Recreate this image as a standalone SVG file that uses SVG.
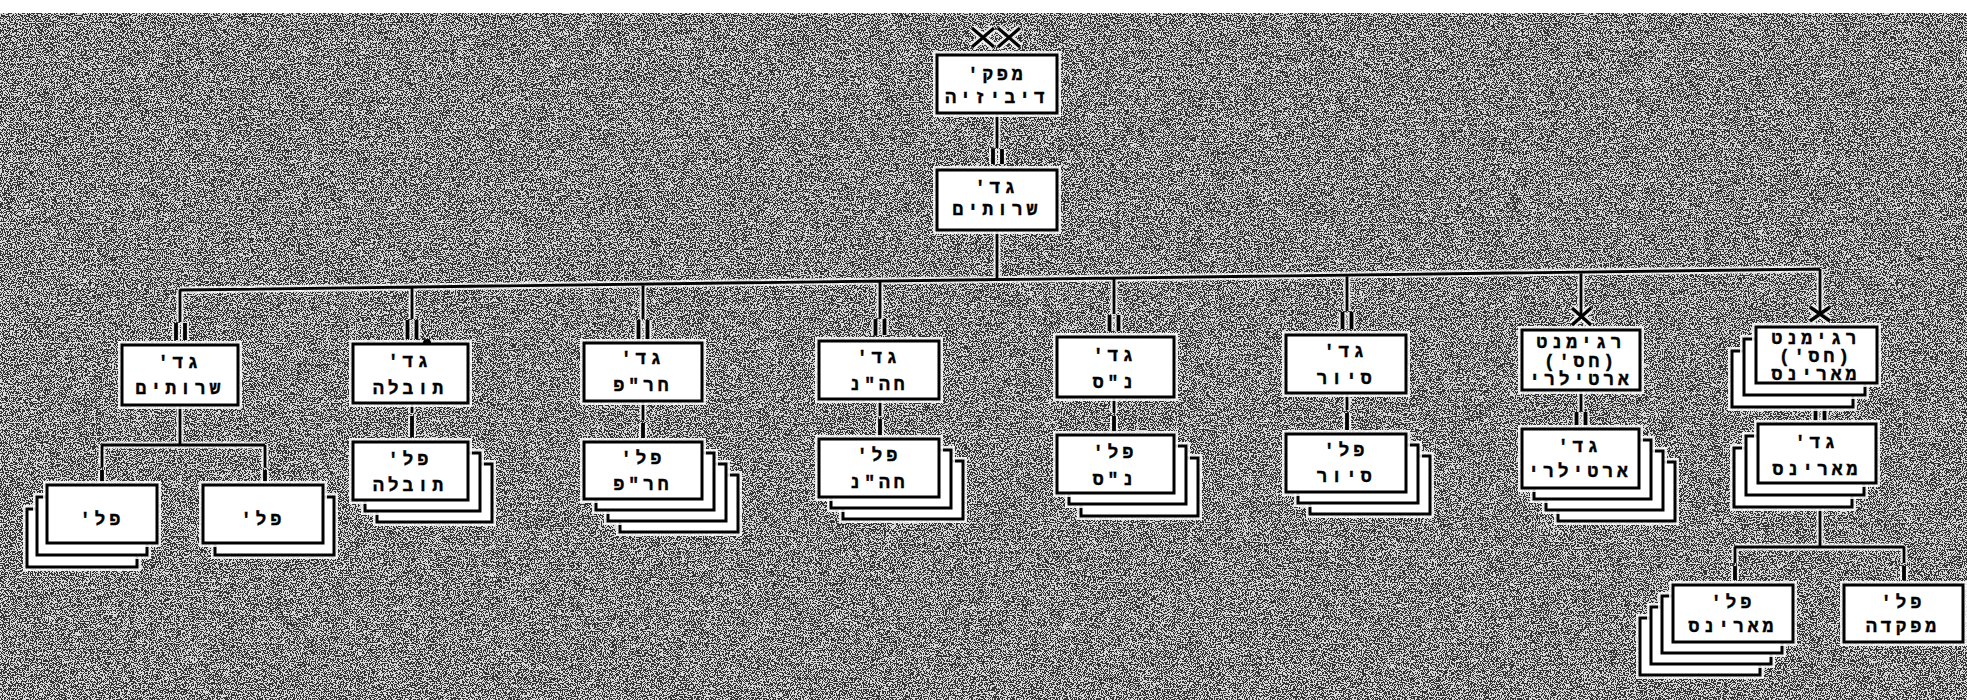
<svg xmlns="http://www.w3.org/2000/svg" width="1967" height="700" viewBox="0 0 1967 700">
<defs>
<filter id="speckle" x="0" y="0" width="1" height="1" color-interpolation-filters="sRGB">
<feTurbulence type="fractalNoise" baseFrequency="0.85" numOctaves="2" seed="7" result="t"/>
<feColorMatrix in="t" type="matrix" values="0 0 0 0 0.2  0 0 0 0 0.2  0 0 0 0 0.2  1 0 0 0 0"/>
<feComponentTransfer><feFuncA type="discrete" tableValues="0 1"/></feComponentTransfer>
</filter>
<style>
.b{fill:#fff;stroke:#000;stroke-width:3}
.h{fill:none;stroke:#fff;stroke-width:8;stroke-opacity:.85}
.x{stroke:#000;stroke-width:3.2;fill:none}
.xh{stroke:#fff;stroke-width:8;fill:none;stroke-opacity:.85}
text{font-family:"Liberation Mono","DejaVu Sans Mono","DejaVu Sans",monospace;font-size:18px;font-weight:bold;letter-spacing:4px;text-anchor:middle;direction:rtl;fill:#000;stroke:#000;stroke-width:0.4}
</style>
<path id="thin" d="M997,113V148M997,230V280M180,290L1820,269
M180,290V322M180,405V445M102,445H265M102,445V467M265,445V467
M412,287V319M412,403V413
M643,284V319M643,401V420
M880,281V318M880,399V416
M1114,278V314M1114,397V413
M1347,275V311M1347,393V410
M1581,272V316M1581,390V411
M1820,269V314M1820,507V547M1735,547H1904M1735,547V563M1904,547V563"/>
<path id="bars" d="M993,149V164M1002,149V164
M176,323V340M185,323V340M102,470V482M265,470V482
M407.5,320V339M416.5,320V339M412,416V437
M638.5,320V339M647.5,320V339M643,423V438
M875.5,319V335M884.5,319V335M880,419V435
M1109.5,315V331M1118.5,315V331M1114,416V431
M1342.5,312V329M1351.5,312V329M1347,413V430
M1576.5,412V425M1585.5,412V425
M1815.5,409V421M1824.5,409V421M1735,566V580M1904,566V580"/>
<path id="xs" d="M1572,308L1591,325M1591,308L1572,325M1810,307L1830,321M1830,307L1810,321"/>
</defs>
<rect width="1967" height="700" fill="#d9d9d9"/>
<rect width="1967" height="700" fill="#000" filter="url(#speckle)"/>
<rect width="1967" height="13" fill="#fff"/>

<g id="connectors" fill="none">
<use href="#thin" stroke="#fff" stroke-opacity=".8" stroke-width="7"/>
<use href="#bars" stroke="#fff" stroke-opacity=".8" stroke-width="8"/>
<use href="#xs" stroke="#fff" stroke-opacity=".8" stroke-width="8"/>
<use href="#thin" stroke="#000" stroke-width="2.8"/>
<use href="#bars" stroke="#000" stroke-width="3.8"/>
<use href="#xs" stroke="#000" stroke-width="3.4"/>
</g>

<g id="n-division">
<path class="xh" d="M972,28L994,47M994,28L972,47M998,28L1020,47M1020,28L998,47"/>
<path class="x" d="M972,28L994,47M994,28L972,47M998,28L1020,47M1020,28L998,47"/>
<rect class="h" x="937" y="55" width="120" height="58"/><rect class="b" x="937" y="55" width="120" height="58"/>
<text x="997" y="80">מפק'</text><text x="997" y="103">דיביזיה</text>
</g>

<g id="n-svc-bn">
<rect class="h" x="937" y="170" width="120" height="60"/><rect class="b" x="937" y="170" width="120" height="60"/>
<text x="997" y="193">גד'</text><text x="997" y="215">שרותים</text>
</g>

<g id="n-col1">
<rect class="h" x="122" y="345" width="116" height="60"/><rect class="b" x="122" y="345" width="116" height="60"/>
<text x="180" y="368">גד'</text><text x="180" y="394">שרותים</text>
</g>
<g id="n-col1-a">
<rect class="h" x="27" y="509" width="110" height="58"/><rect class="b" x="27" y="509" width="110" height="58"/>
<rect class="h" x="37" y="497" width="110" height="58"/><rect class="b" x="37" y="497" width="110" height="58"/>
<rect class="h" x="47" y="485" width="110" height="58"/><rect class="b" x="47" y="485" width="110" height="58"/>
<text x="102" y="525">פל'</text>
</g>
<g id="n-col1-b">
<rect class="h" x="215" y="497" width="119" height="58"/><rect class="b" x="215" y="497" width="119" height="58"/>
<rect class="h" x="203" y="485" width="120" height="58"/><rect class="b" x="203" y="485" width="120" height="58"/>
<text x="263" y="525">פל'</text>
</g>

<g id="n-col2">
<rect class="h" x="353" y="344" width="115" height="59"/><rect class="b" x="353" y="344" width="115" height="59"/>
<path d="M423,343A4,4 0 0 1 431,343Z" fill="#000"/>
<text x="410" y="367">גד'</text><text x="410" y="394">תובלה</text>
</g>
<g id="n-col2-co">
<rect class="h" x="377" y="464" width="115" height="58"/><rect class="b" x="377" y="464" width="115" height="58"/>
<rect class="h" x="365" y="453" width="115" height="58"/><rect class="b" x="365" y="453" width="115" height="58"/>
<rect class="h" x="353" y="442" width="115" height="58"/><rect class="b" x="353" y="442" width="115" height="58"/>
<text x="410" y="465">פל'</text><text x="410" y="491">תובלה</text>
</g>

<g id="n-col3">
<rect class="h" x="584" y="343" width="118" height="58"/><rect class="b" x="584" y="343" width="118" height="58"/>
<text x="643" y="364">גד'</text><text x="643" y="391">חר"פ</text>
</g>
<g id="n-col3-co">
<rect class="h" x="620" y="475" width="118" height="57"/><rect class="b" x="620" y="475" width="118" height="57"/>
<rect class="h" x="608" y="464" width="118" height="57"/><rect class="b" x="608" y="464" width="118" height="57"/>
<rect class="h" x="596" y="453" width="118" height="57"/><rect class="b" x="596" y="453" width="118" height="57"/>
<rect class="h" x="584" y="442" width="118" height="57"/><rect class="b" x="584" y="442" width="118" height="57"/>
<text x="643" y="464">פל'</text><text x="643" y="490">חר"פ</text>
</g>

<g id="n-col4">
<rect class="h" x="819" y="341" width="120" height="58"/><rect class="b" x="819" y="341" width="120" height="58"/>
<text x="879" y="363">גד'</text><text x="879" y="390">חה"נ</text>
</g>
<g id="n-col4-co">
<rect class="h" x="843" y="461" width="120" height="58"/><rect class="b" x="843" y="461" width="120" height="58"/>
<rect class="h" x="831" y="450" width="120" height="58"/><rect class="b" x="831" y="450" width="120" height="58"/>
<rect class="h" x="819" y="439" width="120" height="58"/><rect class="b" x="819" y="439" width="120" height="58"/>
<text x="879" y="461">פל'</text><text x="879" y="488">חה"נ</text>
</g>

<g id="n-col5">
<rect class="h" x="1057" y="337" width="117" height="60"/><rect class="b" x="1057" y="337" width="117" height="60"/>
<text x="1115" y="361">גד'</text><text x="1115" y="388">נ"ס</text>
</g>
<g id="n-col5-co">
<rect class="h" x="1081" y="458" width="117" height="58"/><rect class="b" x="1081" y="458" width="117" height="58"/>
<rect class="h" x="1069" y="446" width="117" height="58"/><rect class="b" x="1069" y="446" width="117" height="58"/>
<rect class="h" x="1057" y="435" width="117" height="58"/><rect class="b" x="1057" y="435" width="117" height="58"/>
<text x="1115" y="458">פל'</text><text x="1115" y="485">נ"ס</text>
</g>

<g id="n-col6">
<rect class="h" x="1286" y="335" width="120" height="58"/><rect class="b" x="1286" y="335" width="120" height="58"/>
<text x="1346" y="357">גד'</text><text x="1346" y="384">סיור</text>
</g>
<g id="n-col6-co">
<rect class="h" x="1310" y="456" width="120" height="58"/><rect class="b" x="1310" y="456" width="120" height="58"/>
<rect class="h" x="1298" y="445" width="120" height="58"/><rect class="b" x="1298" y="445" width="120" height="58"/>
<rect class="h" x="1286" y="434" width="120" height="58"/><rect class="b" x="1286" y="434" width="120" height="58"/>
<text x="1346" y="456">פל'</text><text x="1346" y="482">סיור</text>
</g>

<g id="n-col7">
<rect class="h" x="1522" y="330" width="118" height="60"/><rect class="b" x="1522" y="330" width="118" height="60"/>
<text x="1581" y="348">רגימנט</text><text x="1581" y="367">(חס')</text><text x="1581" y="385">ארטילרי</text>
</g>
<g id="n-col7-bn">
<rect class="h" x="1558" y="462" width="117" height="59"/><rect class="b" x="1558" y="462" width="117" height="59"/>
<rect class="h" x="1546" y="451" width="117" height="59"/><rect class="b" x="1546" y="451" width="117" height="59"/>
<rect class="h" x="1534" y="440" width="117" height="59"/><rect class="b" x="1534" y="440" width="117" height="59"/>
<rect class="h" x="1522" y="429" width="117" height="59"/><rect class="b" x="1522" y="429" width="117" height="59"/>
<text x="1580" y="452">גד'</text><text x="1580" y="477">ארטילרי</text>
</g>

<g id="n-col8">
<rect class="h" x="1732" y="351" width="121" height="56"/><rect class="b" x="1732" y="351" width="121" height="56"/>
<rect class="h" x="1744" y="339" width="121" height="56"/><rect class="b" x="1744" y="339" width="121" height="56"/>
<rect class="h" x="1756" y="327" width="121" height="56"/><rect class="b" x="1756" y="327" width="121" height="56"/>
<text x="1816" y="344">רגימנט</text><text x="1816" y="362">(חס')</text><text x="1816" y="380">מארינס</text>
</g>
<g id="n-col8-bn">
<rect class="h" x="1734" y="448" width="118" height="59"/><rect class="b" x="1734" y="448" width="118" height="59"/>
<rect class="h" x="1746" y="436" width="118" height="59"/><rect class="b" x="1746" y="436" width="118" height="59"/>
<rect class="h" x="1758" y="424" width="118" height="59"/><rect class="b" x="1758" y="424" width="118" height="59"/>
<text x="1817" y="448">גד'</text><text x="1817" y="475">מארינס</text>
</g>
<g id="n-col8-co">
<rect class="h" x="1640" y="618" width="120" height="57"/><rect class="b" x="1640" y="618" width="120" height="57"/>
<rect class="h" x="1651" y="607" width="120" height="57"/><rect class="b" x="1651" y="607" width="120" height="57"/>
<rect class="h" x="1662" y="596" width="120" height="57"/><rect class="b" x="1662" y="596" width="120" height="57"/>
<rect class="h" x="1673" y="585" width="120" height="57"/><rect class="b" x="1673" y="585" width="120" height="57"/>
<text x="1733" y="608">פל'</text><text x="1733" y="632">מארינס</text>
</g>
<g id="n-col8-hq">
<rect class="h" x="1844" y="585" width="119" height="57"/><rect class="b" x="1844" y="585" width="119" height="57"/>
<text x="1903" y="608">פל'</text><text x="1903" y="632">מפקדה</text>
</g>
</svg>
